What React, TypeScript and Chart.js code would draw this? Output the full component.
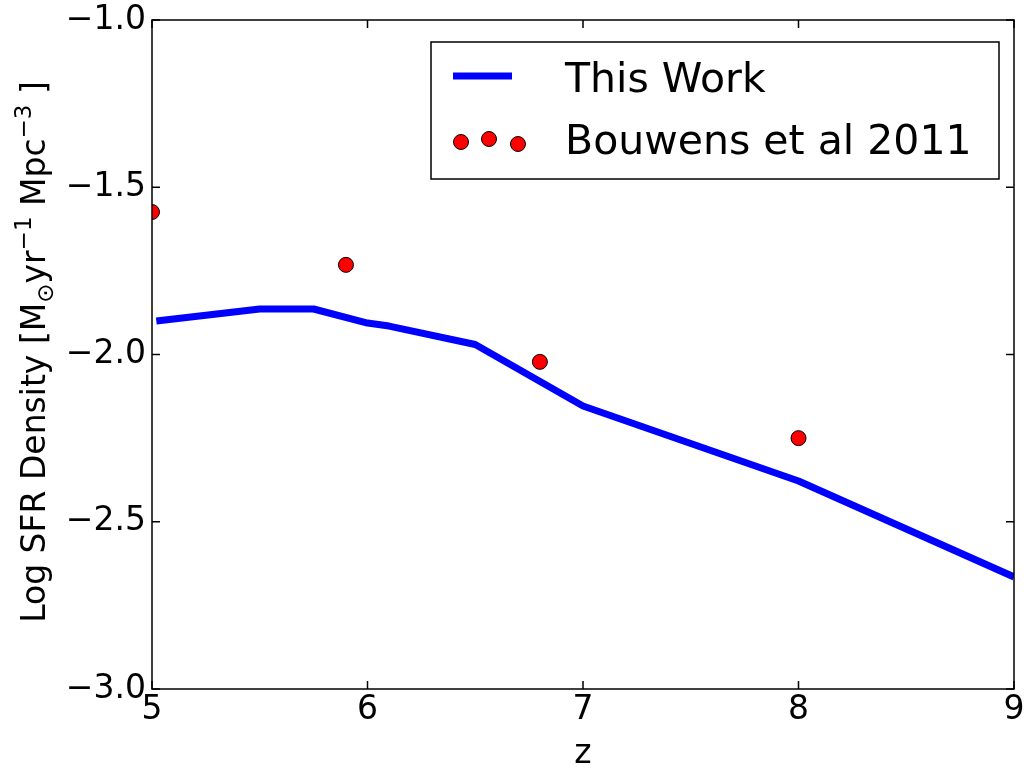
import React, { useEffect, useRef } from 'react';
import { Chart, registerables } from 'chart.js';

Chart.register(...registerables);

const FONT = '"DejaVu Sans", sans-serif';

const modelZ = [5.02, 5.5, 5.75, 6.0, 6.1, 6.5, 7.0, 8.0, 9.0];
const modelSFR = [-1.9, -1.864, -1.864, -1.906, -1.915, -1.97, -2.154, -2.378, -2.665];
const obsZ = [5.0, 5.9, 6.8, 8.0];
const obsSFR = [-1.574, -1.732, -2.022, -2.25];
const xTicks = [5, 6, 7, 8, 9];
const yTicks = [-3.0, -2.5, -2.0, -1.5, -1.0];
const seriesLabels = ['This Work', 'Bouwens et al 2011'];
const xTitle = 'z';

const fmtY = (v: number) => (v < 0 ? '\u2212' : '') + Math.abs(v).toFixed(1);

const decorPlugin = {
  id: 'decor',
  afterDraw(chart: any) {
    const { ctx, chartArea: a, scales } = chart;
    ctx.save();
    // frame
    ctx.strokeStyle = '#000';
    ctx.lineWidth = 1.5;
    ctx.strokeRect(a.left, a.top, a.right - a.left, a.bottom - a.top);
    // inward ticks on all sides
    const L = 8;
    ctx.beginPath();
    xTicks.forEach((v) => {
      const x = scales.x.getPixelForValue(v);
      ctx.moveTo(x, a.bottom);
      ctx.lineTo(x, a.bottom - L);
      ctx.moveTo(x, a.top);
      ctx.lineTo(x, a.top + L);
    });
    yTicks.forEach((v) => {
      const y = scales.y.getPixelForValue(v);
      ctx.moveTo(a.left, y);
      ctx.lineTo(a.left + L, y);
      ctx.moveTo(a.right, y);
      ctx.lineTo(a.right - L, y);
    });
    ctx.stroke();

    // x title
    ctx.fillStyle = '#000';
    ctx.font = `33px ${FONT}`;
    ctx.textAlign = 'center';
    ctx.textBaseline = 'alphabetic';
    ctx.fillText(xTitle, (a.left + a.right) / 2, 763);

    // y title with sub/superscripts
    const segs: [string, number, number][] = [
      ['Log SFR Density [M', 33, 0],
      ['\u2299', 23, 8],
      ['yr', 33, 0],
      ['\u22121', 23, -14],
      [' Mpc', 33, 0],
      ['\u22123', 23, -14],
      [' ]', 33, 0],
    ];
    let total = 0;
    const widths = segs.map(([t, s]) => {
      ctx.font = `${s}px ${FONT}`;
      const w = ctx.measureText(t).width;
      total += w;
      return w;
    });
    ctx.translate(45, 352);
    ctx.rotate(-Math.PI / 2);
    ctx.textAlign = 'left';
    let cx = -total / 2;
    segs.forEach(([t, s, dy], i) => {
      ctx.font = `${s}px ${FONT}`;
      ctx.fillText(t, cx, dy);
      cx += widths[i];
    });
    ctx.setTransform(1, 0, 0, 1, 0, 0);

    // legend
    const bx = 431, by = 42, bw = 568, bh = 137;
    ctx.fillStyle = '#fff';
    ctx.fillRect(bx, by, bw, bh);
    ctx.strokeStyle = '#000';
    ctx.lineWidth = 1.5;
    ctx.strokeRect(bx, by, bw, bh);
    ctx.strokeStyle = '#0000ff';
    ctx.lineWidth = 7;
    ctx.beginPath();
    ctx.moveTo(453, 76);
    ctx.lineTo(512, 76);
    ctx.stroke();
    const dots = [[461, 142], [489, 139], [518, 144]];
    ctx.lineWidth = 1;
    ctx.strokeStyle = '#000';
    ctx.fillStyle = '#ff0000';
    dots.forEach(([x, y]) => {
      ctx.beginPath();
      ctx.arc(x, y, 7.5, 0, Math.PI * 2);
      ctx.fill();
      ctx.stroke();
    });
    ctx.fillStyle = '#000';
    ctx.font = `41px ${FONT}`;
    ctx.textAlign = 'left';
    ctx.textBaseline = 'alphabetic';
    ctx.fillText(seriesLabels[0], 565, 92);
    ctx.fillText(seriesLabels[1], 565, 154);
    ctx.restore();
  },
};

export default function App() {
  const ref = useRef<HTMLCanvasElement>(null);
  useEffect(() => {
    document.body.style.margin = '0';
    const chart = new Chart(ref.current as HTMLCanvasElement, {
      type: 'scatter',
      data: {
        datasets: [
          {
            label: seriesLabels[0],
            data: modelZ.map((x, i) => ({ x, y: modelSFR[i] })),
            showLine: true,
            borderColor: '#0000ff',
            backgroundColor: '#0000ff',
            borderWidth: 7,
            borderJoinStyle: 'round',
            pointRadius: 0,
            tension: 0,
            order: 1,
          },
          {
            label: seriesLabels[1],
            data: obsZ.map((x, i) => ({ x, y: obsSFR[i] })),
            showLine: false,
            pointRadius: 7.5,
            pointBackgroundColor: '#ff0000',
            pointBorderColor: '#000',
            pointBorderWidth: 1,
            clip: 0,
            order: 0,
          },
        ],
      } as any,
      options: {
        animation: false,
        responsive: false,
        devicePixelRatio: 1,
        layout: { padding: { left: 0, right: 14, top: 20, bottom: 0 } },
        plugins: { legend: { display: false }, tooltip: { enabled: false } },
        scales: {
          x: {
            type: 'linear',
            min: 5,
            max: 9,
            grid: { display: false, drawTicks: false },
            border: { display: false },
            afterBuildTicks: (s: any) => { s.ticks = xTicks.map((v) => ({ value: v })); },
            afterFit: (s: any) => { s.height = 81; s.paddingLeft = 0; s.paddingRight = 0; },
            ticks: {
              color: '#000',
              font: { family: FONT, size: 33, lineHeight: 1 },
              padding: 5,
              autoSkip: false,
              maxRotation: 0,
              callback: (v: any) => String(v),
            },
          },
          y: {
            type: 'linear',
            min: -3,
            max: -1,
            grid: { display: false, drawTicks: false },
            border: { display: false },
            afterBuildTicks: (s: any) => { s.ticks = yTicks.map((v) => ({ value: v })); },
            afterFit: (s: any) => { s.width = 152; s.paddingTop = 0; s.paddingBottom = 0; },
            ticks: {
              color: '#000',
              font: { family: FONT, size: 33, lineHeight: 1 },
              padding: 6,
              autoSkip: false,
              callback: (v: any) => fmtY(Number(v)),
            },
          },
        },
      },
      plugins: [decorPlugin],
    } as any);
    return () => chart.destroy();
  }, []);
  return <canvas ref={ref} width={1028} height={770} style={{ display: 'block' }} />;
}
